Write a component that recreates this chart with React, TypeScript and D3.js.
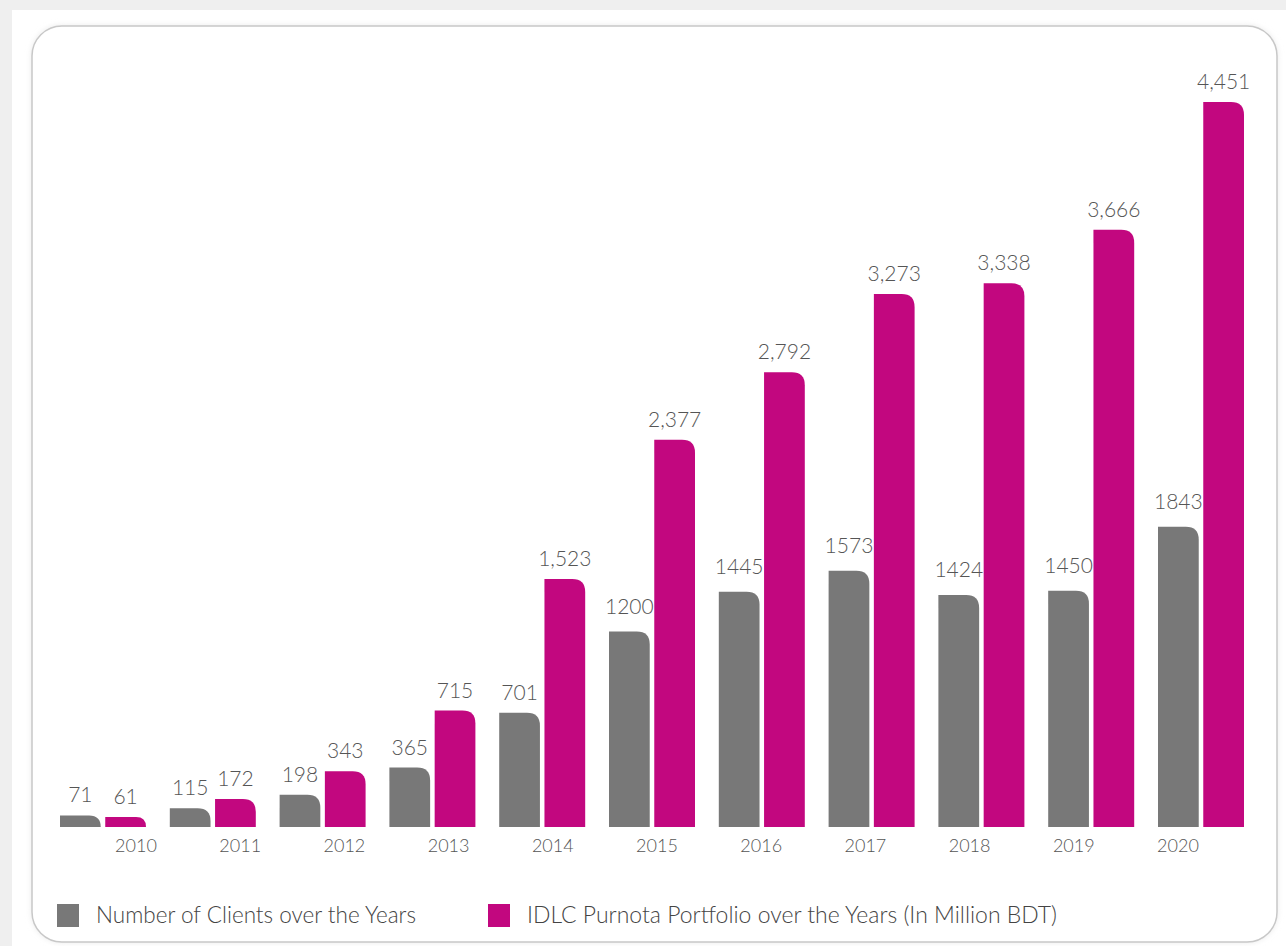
import React from "react";
import * as d3 from "d3";

const years = ["2010","2011","2012","2013","2014","2015","2016","2017","2018","2019","2020"];
const clients = [71,115,198,365,701,1200,1445,1573,1424,1450,1843];
const portfolio = [61,172,343,715,1523,2377,2792,3273,3338,3666,4451];
const seriesKeys = ["clients","portfolio"];
const legendLabels = ["Number of Clients over the Years","IDLC Purnota Portfolio over the Years (In Million BDT)"];
const colors = ["#787878","#c2077f"];

const W = 1286, H = 946;

function barPath(x: number, y: number, w: number, h: number, r: number) {
  const rr = Math.min(r, h, w);
  return `M${x},${y + h}V${y}H${x + w - rr}Q${x + w},${y} ${x + w},${y + rr}V${y + h}Z`;
}

export default function App() {
  const x0 = d3.scaleBand<string>().domain(years).range([60, 1244]).paddingInner(0.2168).paddingOuter(0);
  const x1 = d3.scaleBand<string>().domain(seriesKeys).range([0, x0.bandwidth()]).paddingInner(0.1);
  const y = d3.scaleLinear().domain([0, 4451]).range([827, 102]);
  const xYear = d3.scalePoint<string>().domain(years).range([136, 1178]);
  const fmtP = d3.format(",");
  const values = [clients, portfolio];
  const font = "Lato, 'Open Sans', sans-serif";

  return (
    <svg width={W} height={H} style={{ position: "absolute", left: 0, top: 0 }} fontFamily={font}>
      <defs>
        <filter id="sh" x="-5%" y="-5%" width="110%" height="110%">
          <feGaussianBlur stdDeviation="3" />
        </filter>
      </defs>
      <rect x={0} y={0} width={W} height={H} fill="#efefef" />
      <rect x={12} y={10} width={W - 12} height={H - 10} fill="#ffffff" />
      <rect x={32} y={26} width={1245} height={916} rx={30} ry={30} fill="#e6e6e6" filter="url(#sh)" />
      <rect x={32} y={26} width={1245} height={916} rx={30} ry={30} fill="#ffffff" stroke="#c8c8c8" strokeWidth={1.5} />
      {years.map((yr, i) => (
        <g key={yr}>
          {seriesKeys.map((k, s) => {
            const v = values[s][i];
            const bx = (x0(yr) ?? 0) + (x1(k) ?? 0);
            const bw = x1.bandwidth();
            const top = y(v);
            const h = y(0) - top;
            const gap = s === 0 ? (v > 1000 ? 18 : 13) : 13;
            return (
              <g key={k}>
                <path d={barPath(bx, top, bw, h, 13)} fill={colors[s]} />
                <text x={bx + bw / 2} y={top - gap} textAnchor="middle" fontSize={21} fontWeight={300} fill="#555">
                  {s === 1 ? fmtP(v) : String(v)}
                </text>
              </g>
            );
          })}
          <text x={xYear(yr)} y={852} textAnchor="middle" fontSize={18} fontWeight={300} fill="#555">{yr}</text>
        </g>
      ))}
      <g>
        <rect x={57} y={904} width={22} height={23} fill={colors[0]} />
        <text x={96} y={923} fontSize={22.5} fontWeight={300} fill="#444">{legendLabels[0]}</text>
        <rect x={488} y={904} width={22} height={23} fill={colors[1]} />
        <text x={527} y={923} fontSize={22.5} fontWeight={300} fill="#444" textLength={530} lengthAdjust="spacingAndGlyphs">{legendLabels[1]}</text>
      </g>
    </svg>
  );
}
